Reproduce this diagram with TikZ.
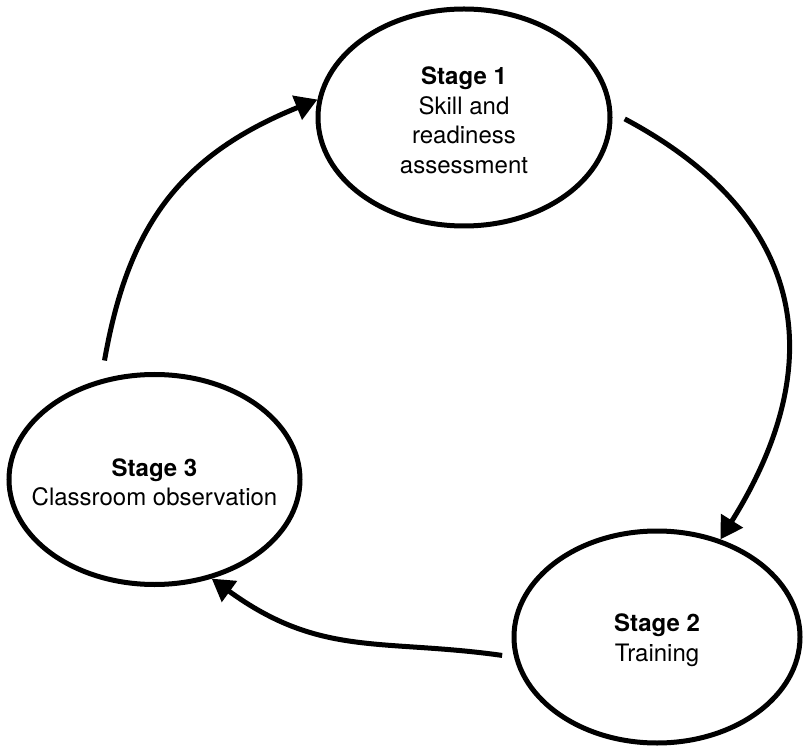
\documentclass[tikz,border=0pt]{standalone}
\usepackage{fontspec}
\setmainfont{TeX Gyre Heros}
\usetikzlibrary{shapes.geometric,arrows.meta}
\begin{document}
\begin{tikzpicture}[x=1pt,y=1pt,
  stage/.style={ellipse,draw,line width=5pt,inner sep=0pt},
  stagetext/.style={align=center,inner sep=0pt,yshift=-3pt,
    font=\fontsize{24}{29.5}\selectfont},
  flow/.style={line width=5pt,-{Triangle[length=22pt,width=25pt]}}]
\useasboundingbox (0,0) rectangle (803,748);

% the three stages of the cycle
\node[stage,minimum width=292pt,minimum height=217pt,
  label={[stagetext]center:{\textbf{Stage 1}\\Skill and\\readiness\\assessment}}]
  (s1) at (464,630.5) {};
\node[stage,minimum width=286pt,minimum height=212pt,
  label={[stagetext]center:{\textbf{Stage 2}\\Training}}]
  (s2) at (657,111) {};
\node[stage,minimum width=291pt,minimum height=210pt,
  label={[stagetext]center:{\textbf{Stage 3}\\Classroom observation}}]
  (s3) at (154.5,268.5) {};

% arrows running clockwise between the stages
\draw[flow,shorten <=19pt] (s3.118) to[out=80,in=202,looseness=1.1] (s1.173);
\draw[flow,shorten <=14pt] (s1.2) to[out=-28,in=58,looseness=1.25] (s2.57);
\draw[flow,shorten <=12pt] (s2.188) to[out=172,in=-36,looseness=1.1] (s3.-60);
\end{tikzpicture}
\end{document}
